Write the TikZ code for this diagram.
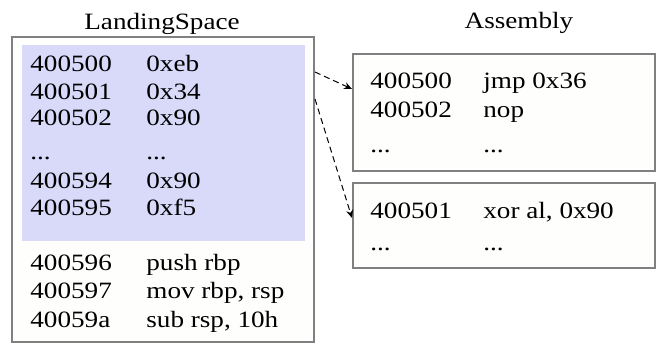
\documentclass[tikz,border=0pt]{standalone}
\usepackage{fontspec}
\setmainfont{Liberation Serif}[FakeStretch=1.16]
\usetikzlibrary{arrows.meta,positioning}
\definecolor{panelgray}{HTML}{808080}
\definecolor{panelfill}{HTML}{FEFEFC}
\definecolor{nopblue}{HTML}{D9D9FA}
\newcommand{\skipdots}{...}

\begin{document}
\begin{tikzpicture}[x=0.5pt,y=-0.5pt,
  every node/.style={font=\fontsize{11.7}{14}\selectfont,inner sep=0pt},
  panel/.style={draw=panelgray,line width=1pt,fill=panelfill},
  cell/.style={anchor=base west},
  jump/.style={dash pattern=on 3pt off 2pt,line width=0.5pt,-{Stealth[length=4pt,width=3.5pt]}}]
\useasboundingbox (0,0) rectangle (658,353);
% boxes
\node[panel,minimum width=151pt,minimum height=152.5pt] (land) at (163,189.5) {};
\node[fill=nopblue,minimum width=141.5pt,minimum height=98pt] (sled) at (163.5,143) {};
\node[panel,minimum width=151pt,minimum height=58.5pt] (top) at (504,112.5) {};
\node[panel,minimum width=151pt,minimum height=42.5pt] (bot) at (504,225.5) {};
\node[anchor=base] (landtitle) at (162,30) {LandingSpace};
\node[anchor=base] (asmtitle) at (519,29) {Assembly};
% landing space rows
\foreach \y/\addr/\val [count=\i] in {72/400500/0xeb,99/400501/0x34,126/400502/0x90,
    159/\skipdots/\skipdots,188/400594/0x90,215/400595/0xf5,270/400596/{push rbp},
    298/400597/{mov rbp, rsp},327/40059a/{sub rsp, 10h}}{
  \node[cell] (la\i) at (30,\y) {\addr};
  \node[cell] (lb\i) at (146,\y) {\val};
}
% disassembled rows
\foreach \y/\addr/\val [count=\i] in {89/400500/{jmp 0x36},118/400502/nop,152/\skipdots/\skipdots}{
  \node[cell] (ta\i) at (370,\y) {\addr};
  \node[cell] (tb\i) at (483,\y) {\val};
}
\foreach \y/\addr/\val [count=\i] in {218/400501/{xor al, 0x90},250/\skipdots/\skipdots}{
  \node[cell] (ba\i) at (370,\y) {\addr};
  \node[cell] (bb\i) at (483,\y) {\val};
}
\draw[jump] (land.east |- la1.base) -- (top.west |- ta1.base);
\draw[jump] (land.east |- la2.base) -- (bot.west |- ba1.base);
\end{tikzpicture}
\end{document}
